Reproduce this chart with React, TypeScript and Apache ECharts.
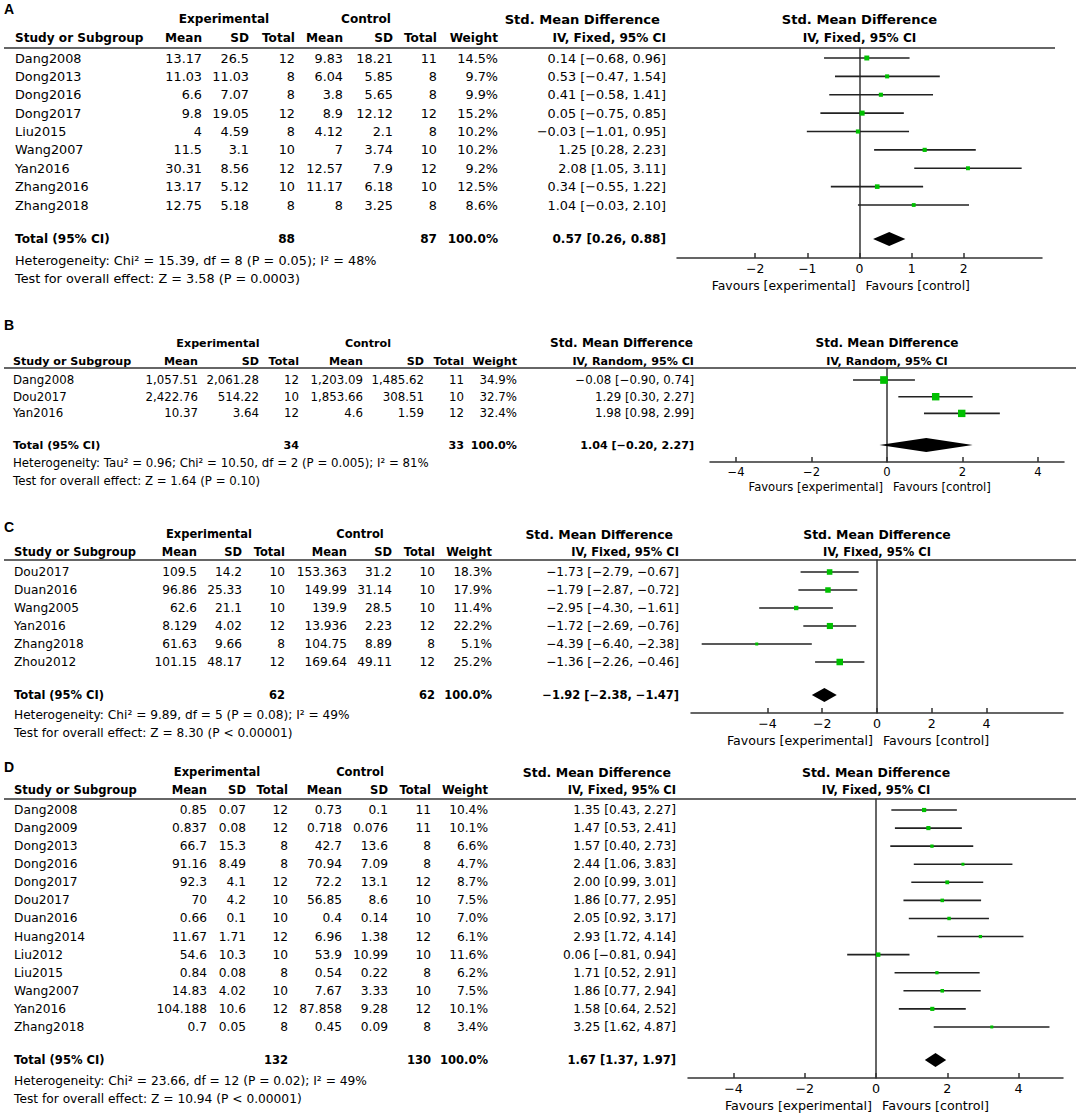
import React, { useEffect, useRef } from "react";
import * as echarts from "echarts";

// ---------------- Panel A ----------------
const studiesA = ["Dang2008", "Dong2013", "Dong2016", "Dong2017", "Liu2015", "Wang2007", "Yan2016", "Zhang2016", "Zhang2018"];
const expMeanA = ["13.17", "11.03", "6.6", "9.8", "4", "11.5", "30.31", "13.17", "12.75"];
const expSdA = ["26.5", "11.03", "7.07", "19.05", "4.59", "3.1", "8.56", "5.12", "5.18"];
const expNA = [12, 8, 8, 12, 8, 10, 12, 10, 8];
const ctlMeanA = ["9.83", "6.04", "3.8", "8.9", "4.12", "7", "12.57", "11.17", "8"];
const ctlSdA = ["18.21", "5.85", "5.65", "12.12", "2.1", "3.74", "7.9", "6.18", "3.25"];
const ctlNA = [11, 8, 8, 12, 8, 10, 12, 10, 8];
const weightA = [14.5, 9.7, 9.9, 15.2, 10.2, 10.2, 9.2, 12.5, 8.6];
const smdA = [0.14, 0.53, 0.41, 0.05, -0.03, 1.25, 2.08, 0.34, 1.04];
const loA = [-0.68, -0.47, -0.58, -0.75, -1.01, 0.28, 1.05, -0.55, -0.03];
const hiA = [0.96, 1.54, 1.41, 0.85, 0.95, 2.23, 3.11, 1.22, 2.1];
const totalA = [88, 87, 0.57, 0.26, 0.88];
const hetA = "Heterogeneity: Chi² = 15.39, df = 8 (P = 0.05); I² = 48%";
const testA = "Test for overall effect: Z = 3.58 (P = 0.0003)";
const methodA = "IV, Fixed, 95% CI";
const ticksA = [-2, -1, 0, 1, 2];

// ---------------- Panel B ----------------
const studiesB = ["Dang2008", "Dou2017", "Yan2016"];
const expMeanB = ["1,057.51", "2,422.76", "10.37"];
const expSdB = ["2,061.28", "514.22", "3.64"];
const expNB = [12, 10, 12];
const ctlMeanB = ["1,203.09", "1,853.66", "4.6"];
const ctlSdB = ["1,485.62", "308.51", "1.59"];
const ctlNB = [11, 10, 12];
const weightB = [34.9, 32.7, 32.4];
const smdB = [-0.08, 1.29, 1.98];
const loB = [-0.9, 0.3, 0.98];
const hiB = [0.74, 2.27, 2.99];
const totalB = [34, 33, 1.04, -0.2, 2.27];
const hetB = "Heterogeneity: Tau² = 0.96; Chi² = 10.50, df = 2 (P = 0.005); I² = 81%";
const testB = "Test for overall effect: Z = 1.64 (P = 0.10)";
const methodB = "IV, Random, 95% CI";
const ticksB = [-4, -2, 0, 2, 4];

// ---------------- Panel C ----------------
const studiesC = ["Dou2017", "Duan2016", "Wang2005", "Yan2016", "Zhang2018", "Zhou2012"];
const expMeanC = ["109.5", "96.86", "62.6", "8.129", "61.63", "101.15"];
const expSdC = ["14.2", "25.33", "21.1", "4.02", "9.66", "48.17"];
const expNC = [10, 10, 10, 12, 8, 12];
const ctlMeanC = ["153.363", "149.99", "139.9", "13.936", "104.75", "169.64"];
const ctlSdC = ["31.2", "31.14", "28.5", "2.23", "8.89", "49.11"];
const ctlNC = [10, 10, 10, 12, 8, 12];
const weightC = [18.3, 17.9, 11.4, 22.2, 5.1, 25.2];
const smdC = [-1.73, -1.79, -2.95, -1.72, -4.39, -1.36];
const loC = [-2.79, -2.87, -4.3, -2.69, -6.4, -2.26];
const hiC = [-0.67, -0.72, -1.61, -0.76, -2.38, -0.46];
const totalC = [62, 62, -1.92, -2.38, -1.47];
const hetC = "Heterogeneity: Chi² = 9.89, df = 5 (P = 0.08); I² = 49%";
const testC = "Test for overall effect: Z = 8.30 (P < 0.00001)";
const methodC = "IV, Fixed, 95% CI";
const ticksC = [-4, -2, 0, 2, 4];

// ---------------- Panel D ----------------
const studiesD = ["Dang2008", "Dang2009", "Dong2013", "Dong2016", "Dong2017", "Dou2017", "Duan2016", "Huang2014", "Liu2012", "Liu2015", "Wang2007", "Yan2016", "Zhang2018"];
const expMeanD = ["0.85", "0.837", "66.7", "91.16", "92.3", "70", "0.66", "11.67", "54.6", "0.84", "14.83", "104.188", "0.7"];
const expSdD = ["0.07", "0.08", "15.3", "8.49", "4.1", "4.2", "0.1", "1.71", "10.3", "0.08", "4.02", "10.6", "0.05"];
const expND = [12, 12, 8, 8, 12, 10, 10, 12, 10, 8, 10, 12, 8];
const ctlMeanD = ["0.73", "0.718", "42.7", "70.94", "72.2", "56.85", "0.4", "6.96", "53.9", "0.54", "7.67", "87.858", "0.45"];
const ctlSdD = ["0.1", "0.076", "13.6", "7.09", "13.1", "8.6", "0.14", "1.38", "10.99", "0.22", "3.33", "9.28", "0.09"];
const ctlND = [11, 11, 8, 8, 12, 10, 10, 12, 10, 8, 10, 12, 8];
const weightD = [10.4, 10.1, 6.6, 4.7, 8.7, 7.5, 7.0, 6.1, 11.6, 6.2, 7.5, 10.1, 3.4];
const smdD = [1.35, 1.47, 1.57, 2.44, 2.0, 1.86, 2.05, 2.93, 0.06, 1.71, 1.86, 1.58, 3.25];
const loD = [0.43, 0.53, 0.4, 1.06, 0.99, 0.77, 0.92, 1.72, -0.81, 0.52, 0.77, 0.64, 1.62];
const hiD = [2.27, 2.41, 2.73, 3.83, 3.01, 2.95, 3.17, 4.14, 0.94, 2.91, 2.94, 2.52, 4.87];
const totalD = [132, 130, 1.67, 1.37, 1.97];
const hetD = "Heterogeneity: Chi² = 23.66, df = 12 (P = 0.02); I² = 49%";
const testD = "Test for overall effect: Z = 10.94 (P < 0.00001)";
const methodD = "IV, Fixed, 95% CI";
const ticksD = [-4, -2, 0, 2, 4];

// ---------------- Layout (pixels) ----------------
const layoutA = {
  label: 9, hdr1: 19, hdr2: 38, line: 48, row0: 58, step: 18.375, total: 239, het: 260, test: 278,
  axisY: 258, x0: 677, x1: 1042, xmin: -3.5, xmax: 3.5, lineRight: 1055, scale: 1, favFont: 12.4, favY: 285,
  study: 15, expMean: 202, expSd: 249, expN: 295, ctlMean: 343, ctlSd: 393, ctlN: 437, weight: 498, ci: 666, smdHdr: 660, expHdr: 224, ctlHdr: 366,
};
const layoutB = {
  label: 325, hdr1: 343, hdr2: 361, line: 368, row0: 380, step: 16.7, total: 445, het: 463, test: 481,
  axisY: 462, x0: 710, x1: 1064, xmin: -4.69, xmax: 4.69, lineRight: 1076, scale: 0.92, favFont: 11.6, favY: 487,
  study: 13, expMean: 198, expSd: 259, expN: 299, ctlMean: 363, ctlSd: 424, ctlN: 464, weight: 517, ci: 694, smdHdr: 693, expHdr: 218, ctlHdr: 368,
};
const layoutC = {
  label: 527, hdr1: 534, hdr2: 552, line: 560, row0: 572, step: 18, total: 695, het: 715, test: 733,
  axisY: 713, x0: 691, x1: 1063, xmin: -6.79, xmax: 6.79, lineRight: 1076, scale: 0.95, favFont: 12.6, favY: 740,
  study: 14, expMean: 197, expSd: 242, expN: 285, ctlMean: 347, ctlSd: 392, ctlN: 435, weight: 492, ci: 679, smdHdr: 673, expHdr: 209, ctlHdr: 360,
};
const layoutD = {
  label: 767, hdr1: 772, hdr2: 790, line: 799, row0: 810, step: 18.08, total: 1060, het: 1081, test: 1099,
  axisY: 1078, x0: 688, x1: 1063, xmin: -5.28, xmax: 5.25, lineRight: 1076, scale: 0.955, favFont: 12.7, favY: 1105,
  study: 14, expMean: 207, expSd: 246, expN: 288, ctlMean: 342, ctlSd: 388, ctlN: 431, weight: 488, ci: 676, smdHdr: 671, expHdr: 217, ctlHdr: 360,
};

const panels = [
  { key: "A", studies: studiesA, expMean: expMeanA, expSd: expSdA, expN: expNA, ctlMean: ctlMeanA, ctlSd: ctlSdA, ctlN: ctlNA, weight: weightA, smd: smdA, lo: loA, hi: hiA, total: totalA, het: hetA, test: testA, method: methodA, ticks: ticksA, L: layoutA },
  { key: "B", studies: studiesB, expMean: expMeanB, expSd: expSdB, expN: expNB, ctlMean: ctlMeanB, ctlSd: ctlSdB, ctlN: ctlNB, weight: weightB, smd: smdB, lo: loB, hi: hiB, total: totalB, het: hetB, test: testB, method: methodB, ticks: ticksB, L: layoutB },
  { key: "C", studies: studiesC, expMean: expMeanC, expSd: expSdC, expN: expNC, ctlMean: ctlMeanC, ctlSd: ctlSdC, ctlN: ctlNC, weight: weightC, smd: smdC, lo: loC, hi: hiC, total: totalC, het: hetC, test: testC, method: methodC, ticks: ticksC, L: layoutC },
  { key: "D", studies: studiesD, expMean: expMeanD, expSd: expSdD, expN: expND, ctlMean: ctlMeanD, ctlSd: ctlSdD, ctlN: ctlND, weight: weightD, smd: smdD, lo: loD, hi: hiD, total: totalD, het: hetD, test: testD, method: methodD, ticks: ticksD, L: layoutD },
];

const FAM = '"DejaVu Sans", "Liberation Sans", sans-serif';
const INK = "#000";
const GREEN = "#00c000";

const fmt = (v: number) => v.toFixed(2).replace("-", "\u2212");
const ciText = (e: number, l: number, h: number) => `${fmt(e)} [${fmt(l)}, ${fmt(h)}]`;

function T(text: string, x: number, y: number, font: string, align: string = "left") {
  return {
    type: "text",
    x,
    y,
    silent: true,
    style: {
      text,
      font,
      fill: INK,
      align,
      textAlign: align,
      verticalAlign: "middle",
      textVerticalAlign: "middle",
    },
  };
}

function panelGraphics(p: any) {
  const L = p.L;
  const norm = `${(12.8 * L.scale).toFixed(2)}px ${FAM}`;
  const bold = `bold ${(12.1 * L.scale).toFixed(2)}px ${FAM}`;
  const boldWide = `bold ${(13.1 * L.scale).toFixed(2)}px ${FAM}`;
  const fav = `${L.favFont}px ${FAM}`;
  const zeroX = L.x0 + ((0 - L.xmin) / (L.xmax - L.xmin)) * (L.x1 - L.x0);
  const els: any[] = [];
  els.push(T(p.key, 4, L.label, `bold 14px "Liberation Sans", Arial, sans-serif`, "left"));
  // header row 1
  els.push(T("Experimental", L.expHdr, L.hdr1, bold, "center"));
  els.push(T("Control", L.ctlHdr, L.hdr1, bold, "center"));
  els.push(T("Std. Mean Difference", L.smdHdr, L.hdr1, boldWide, "right"));
  els.push(T("Std. Mean Difference", zeroX, L.hdr1, boldWide, "center"));
  // header row 2
  els.push(T("Study or Subgroup", L.study, L.hdr2, bold, "left"));
  els.push(T("Mean", L.expMean, L.hdr2, bold, "right"));
  els.push(T("SD", L.expSd, L.hdr2, bold, "right"));
  els.push(T("Total", L.expN, L.hdr2, bold, "right"));
  els.push(T("Mean", L.ctlMean, L.hdr2, bold, "right"));
  els.push(T("SD", L.ctlSd, L.hdr2, bold, "right"));
  els.push(T("Total", L.ctlN, L.hdr2, bold, "right"));
  els.push(T("Weight", L.weight, L.hdr2, bold, "right"));
  els.push(T(p.method, L.ci, L.hdr2, bold, "right"));
  els.push(T(p.method, zeroX, L.hdr2, bold, "center"));
  // header rule
  els.push({
    type: "line",
    silent: true,
    shape: { x1: 4, y1: L.line, x2: L.lineRight, y2: L.line },
    style: { stroke: "#333", lineWidth: 1.5 },
  });
  // study rows
  p.studies.forEach((s: string, i: number) => {
    const y = L.row0 + i * L.step;
    els.push(T(s, L.study, y, norm, "left"));
    els.push(T(p.expMean[i], L.expMean, y, norm, "right"));
    els.push(T(p.expSd[i], L.expSd, y, norm, "right"));
    els.push(T(String(p.expN[i]), L.expN, y, norm, "right"));
    els.push(T(p.ctlMean[i], L.ctlMean, y, norm, "right"));
    els.push(T(p.ctlSd[i], L.ctlSd, y, norm, "right"));
    els.push(T(String(p.ctlN[i]), L.ctlN, y, norm, "right"));
    els.push(T(p.weight[i].toFixed(1) + "%", L.weight, y, norm, "right"));
    els.push(T(ciText(p.smd[i], p.lo[i], p.hi[i]), L.ci, y, norm, "right"));
  });
  // total row
  const t = p.total;
  els.push(T("Total (95% CI)", L.study, L.total, bold, "left"));
  els.push(T(String(t[0]), L.expN, L.total, bold, "right"));
  els.push(T(String(t[1]), L.ctlN, L.total, bold, "right"));
  els.push(T("100.0%", L.weight, L.total, bold, "right"));
  els.push(T(ciText(t[2], t[3], t[4]), L.ci, L.total, bold, "right"));
  els.push(T(p.het, L.study, L.het, norm, "left"));
  els.push(T(p.test, L.study, L.test, norm, "left"));
  // favours
  els.push(T("Favours [experimental]", zeroX - 4, L.favY, fav, "right"));
  els.push(T("Favours [control]", zeroX + 6, L.favY, fav, "left"));
  return els;
}

function buildOption() {
  const grids: any[] = [];
  const xAxes: any[] = [];
  const yAxes: any[] = [];
  const series: any[] = [];
  let graphics: any[] = [];

  panels.forEach((p, k) => {
    const L = p.L;
    grids.push({
      left: L.x0,
      top: L.line,
      width: L.x1 - L.x0,
      height: L.axisY - L.line,
      containLabel: false,
      outerBoundsMode: "none",
    });
    xAxes.push({
      type: "value",
      gridIndex: k,
      min: L.xmin,
      max: L.xmax,
      position: "bottom",
      splitLine: { show: false },
      axisLine: { show: true, onZero: false, lineStyle: { color: "#333", width: 1.5 } },
      axisTick: { show: true, inside: true, length: 5, customValues: p.ticks, lineStyle: { color: "#333", width: 1.5 } },
      axisLabel: {
        show: true,
        customValues: p.ticks,
        margin: 4,
        color: INK,
        fontFamily: FAM,
        fontSize: L.favFont,
        formatter: (v: number) => String(v).replace("-", "\u2212"),
      },
    });
    yAxes.push({
      type: "value",
      gridIndex: k,
      min: L.line,
      max: L.axisY,
      inverse: true,
      splitLine: { show: false },
      axisLabel: { show: false },
      axisTick: { show: false },
      axisLine: { show: true, onZero: true, lineStyle: { color: "#333", width: 1.5 } },
    });

    const rows = p.studies.map((_: string, i: number) => [p.smd[i], p.lo[i], p.hi[i], p.weight[i], L.row0 + i * L.step]);
    series.push({
      type: "custom",
      xAxisIndex: k,
      yAxisIndex: k,
      clip: false,
      silent: true,
      encode: { x: [0, 1, 2], y: 4 },
      data: rows,
      renderItem: (_params: any, api: any) => {
        const est = api.value(0);
        const lo = api.value(1);
        const hi = api.value(2);
        const w = api.value(3);
        const y = api.value(4);
        const a = api.coord([lo, y]);
        const b = api.coord([hi, y]);
        const c = api.coord([est, y]);
        const s = Math.max(3, 1.3 * Math.sqrt(w));
        return {
          type: "group",
          children: [
            { type: "line", shape: { x1: a[0], y1: a[1], x2: b[0], y2: b[1] }, style: { stroke: "#222", lineWidth: 1.6 } },
            { type: "rect", shape: { x: c[0] - s / 2, y: c[1] - s / 2, width: s, height: s }, style: { fill: GREEN } },
          ],
        };
      },
    });
    series.push({
      type: "custom",
      xAxisIndex: k,
      yAxisIndex: k,
      clip: false,
      silent: true,
      encode: { x: [0, 1, 2], y: 3 },
      data: [[p.total[2], p.total[3], p.total[4], L.total]],
      renderItem: (_params: any, api: any) => {
        const est = api.value(0);
        const lo = api.value(1);
        const hi = api.value(2);
        const y = api.value(3);
        const a = api.coord([lo, y]);
        const b = api.coord([hi, y]);
        const c = api.coord([est, y]);
        const h = 7;
        return {
          type: "polygon",
          shape: { points: [[a[0], a[1]], [c[0], c[1] - h], [b[0], b[1]], [c[0], c[1] + h]] },
          style: { fill: "#000" },
        };
      },
    });
    graphics = graphics.concat(panelGraphics(p));
  });

  return {
    animation: false,
    backgroundColor: "#fff",
    grid: grids,
    xAxis: xAxes,
    yAxis: yAxes,
    series,
    graphic: { elements: graphics },
  };
}

export default function App() {
  const ref = useRef<HTMLDivElement>(null);
  useEffect(() => {
    if (!ref.current) return;
    const chart = echarts.init(ref.current, null, { renderer: "svg" });
    chart.setOption(buildOption() as any);
    return () => chart.dispose();
  }, []);
  return (
    <div
      ref={ref}
      style={{ position: "absolute", left: 0, top: 0, width: 1084, height: 1119, background: "#fff" }}
    />
  );
}
